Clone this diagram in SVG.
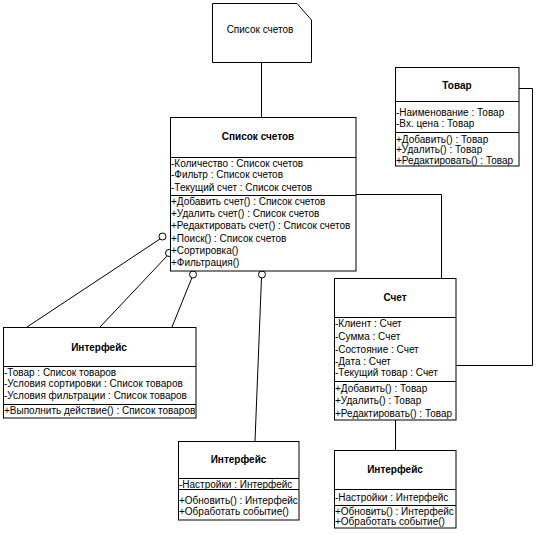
<svg xmlns="http://www.w3.org/2000/svg" width="539" height="535" viewBox="0 0 539 535">
<style>
.box{fill:#fff;stroke:#000;stroke-width:1}
.ln{fill:none;stroke:#000;stroke-width:1}
.t{font-family:"Liberation Sans",Arial,sans-serif;font-size:10px;fill:#000}
.h{font-family:"Liberation Sans",Arial,sans-serif;font-size:10px;font-weight:bold;fill:#000;text-anchor:middle}
.c{fill:#fff;stroke:#000;stroke-width:1}
</style>
<rect width="539" height="535" fill="#fff"/>
<g id="connectors">
<path class="ln" d="M261.5,62 V117"/>
<path class="ln" d="M356,194.5 H441.5 V278"/>
<path class="ln" d="M519,88.5 H532.5 V365.5 H456"/>
<path class="ln" d="M395.5,420 V450"/>
<path class="ln" d="M160,239 L27,327"/>
<path class="ln" d="M167,256 L100,327"/>
<path class="ln" d="M192,277.5 L172,327"/>
<path class="ln" d="M261.5,277.5 L255,441"/>
<circle class="c" cx="162.5" cy="236.5" r="3.5"/>
<circle class="c" cx="169" cy="253" r="3.5"/>
<circle class="c" cx="193" cy="274.5" r="3.5"/>
<circle class="c" cx="262" cy="274.5" r="3.5"/>
</g>
<g id="note">
<path class="box" d="M212.5,3.5 H297 L311.5,20 V62.5 H212.5 Z"/>
<text class="t" x="260" y="33" text-anchor="middle">Список счетов</text>
</g>
<g id="spisok">
<rect class="box" x="170.5" y="117.5" width="185.5" height="153.5"/>
<path class="ln" d="M170.5,157.5 H356 M170.5,195.5 H356"/>
<text class="h" x="258" y="139.5">Список счетов</text>
<text class="t" x="171" y="166.5">-Количество : Список счетов</text>
<text class="t" x="171" y="178">-Фильтр : Список счетов</text>
<text class="t" x="171" y="190.5">-Текущий счет : Список счетов</text>
<text class="t" x="171" y="204.5">+Добавить счет() : Список счетов</text>
<text class="t" x="171" y="216.8">+Удалить счет() : Список счетов</text>
<text class="t" x="171" y="229.2">+Редактировать счет() : Список счетов</text>
<text class="t" x="171" y="241.6">+Поиск() : Список счетов</text>
<text class="t" x="171" y="254">+Сортировка()</text>
<text class="t" x="171" y="266.4">+Фильтрация()</text>
</g>
<g id="tovar">
<rect class="box" x="395.5" y="67.5" width="123.5" height="98.5"/>
<path class="ln" d="M395.5,101.5 H519 M395.5,132.5 H519"/>
<text class="h" x="457" y="88.5">Товар</text>
<text class="t" x="396" y="115.5">-Наименование : Товар</text>
<text class="t" x="396" y="126.5">-Вх. цена : Товар</text>
<text class="t" x="396" y="142.5">+Добавить() : Товар</text>
<text class="t" x="396" y="153">+Удалить() : Товар</text>
<text class="t" x="396" y="163.5">+Редактировать() : Товар</text>
</g>
<g id="schet">
<rect class="box" x="334.5" y="278.5" width="121.5" height="141.5"/>
<path class="ln" d="M334.5,317.5 H456 M334.5,381.5 H456"/>
<text class="h" x="395" y="300.5">Счет</text>
<text class="t" x="335" y="327">-Клиент : Счет</text>
<text class="t" x="335" y="340">-Сумма : Счет</text>
<text class="t" x="335" y="352.5">-Состояние : Счет</text>
<text class="t" x="335" y="364.5">-Дата : Счет</text>
<text class="t" x="335" y="376">-Текущий товар : Счет</text>
<text class="t" x="335" y="391.5">+Добавить() : Товар</text>
<text class="t" x="335" y="403.5">+Удалить() : Товар</text>
<text class="t" x="335" y="416.5">+Редактировать() : Товар</text>
</g>
<g id="iface1">
<rect class="box" x="3.5" y="327.5" width="192.5" height="90.5"/>
<path class="ln" d="M3.5,366.5 H196 M3.5,404.5 H196"/>
<text class="h" x="99" y="350.5">Интерфейс</text>
<text class="t" x="4" y="376">-Товар : Список товаров</text>
<text class="t" x="4" y="387">-Условия сортировки : Список товаров</text>
<text class="t" x="4" y="398.5">-Условия фильтрации : Список товаров</text>
<text class="t" x="4" y="414">+Выполнить действие() : Список товаров</text>
</g>
<g id="iface2">
<rect class="box" x="178.5" y="441.5" width="120.5" height="78.5"/>
<path class="ln" d="M178.5,478.5 H299 M178.5,489.5 H299"/>
<text class="h" x="238.5" y="462.5">Интерфейс</text>
<text class="t" x="179" y="487.5">-Настройки : Интерфейс</text>
<text class="t" x="179" y="504">+Обновить() : Интерфейс</text>
<text class="t" x="179" y="514.5">+Обработать событие()</text>
</g>
<g id="iface3">
<rect class="box" x="334.5" y="450.5" width="121.5" height="77.5"/>
<path class="ln" d="M334.5,489.5 H456 M334.5,505.5 H456"/>
<text class="h" x="395" y="472.5">Интерфейс</text>
<text class="t" x="335" y="501">-Настройки : Интерфейс</text>
<text class="t" x="335" y="515">+Обновить() : Интерфейс</text>
<text class="t" x="335" y="524.5">+Обработать событие()</text>
</g>
</svg>
